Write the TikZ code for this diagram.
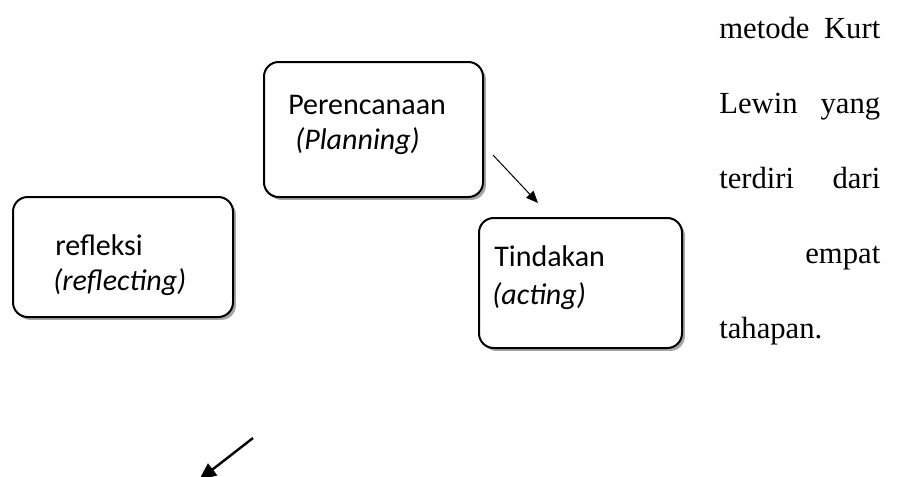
\documentclass[tikz,border=0pt]{standalone}
\usepackage{fontspec}
\setmainfont{Liberation Serif}
\newfontfamily\boxfont{Carlito}
\usetikzlibrary{arrows.meta,shadows}

\tikzstyle{stagebox} = [draw,line width=1.5pt,rounded corners=11pt,fill=white,
  drop shadow={shadow xshift=2.2pt,shadow yshift=-2.2pt,opacity=0.35,fill=black}]
\tikzstyle{stagetext} = [anchor=base west,inner sep=0pt,font=\boxfont\fontsize{22.5pt}{27pt}\selectfont]
\tikzstyle{bodytext} = [anchor=base west,inner sep=0pt,font=\fontsize{23pt}{28pt}\selectfont]
\tikzstyle{thinarrow} = [-{Triangle[length=9pt,width=7.5pt]},line width=0.75pt]
\tikzstyle{thickarrow} = [-{Triangle[length=13pt,width=11pt]},line width=1.8pt]

\begin{document}
\begin{tikzpicture}[x=0.75pt,y=0.75pt]
  \useasboundingbox (0,0) rectangle (898,-476);

  % boxes
  \foreach \nodename/\x/\y/\w/\h in {
    plan/373.5/-129.5/164.25pt/101.25pt,
    reflect/123/-257/165pt/90pt,
    act/580.5/-283/152.25pt/97.5pt}
  {
    \node[stagebox, minimum width=\w, minimum height=\h] (\nodename) at (\x,\y) {};
  }

  % box texts
  \foreach \nodename/\x/\y/\label in {
    plantop/288/-114/Perencanaan,
    planbot/295/-149/\textit{(Planning)},
    reflecttop/55/-255/refleksi,
    reflectbot/53/-290/\textit{(reflecting)},
    acttop/494/-266/Tindakan,
    actbot/492/-304/\textit{(acting)}}
  {
    \node[stagetext] (\nodename) at (\x,\y) {\label};
  }

  % running text
  \foreach \nodename/\y/\words in {
    lineone/38/{metode\hfill Kurt},
    linetwo/113/{Lewin\hfill yang},
    linethree/188/{terdiri\hfill dari},
    linefour/263/{\hfill empat},
    linefive/338/{tahapan.\hfill}}
  {
    \node[bodytext] (\nodename) at (719,-\y) {\hbox to 120.75pt{\words}};
  }

  %arrows
  \coordinate (planout) at (493,-155);
  \coordinate (actin) at (538,-203);
  \coordinate (nextout) at (253,-438);
  \coordinate (nextin) at (199,-480);
  \draw[thinarrow] (planout) -- (actin);
  \draw[thickarrow] (nextout) -- (nextin);
\end{tikzpicture}
\end{document}
